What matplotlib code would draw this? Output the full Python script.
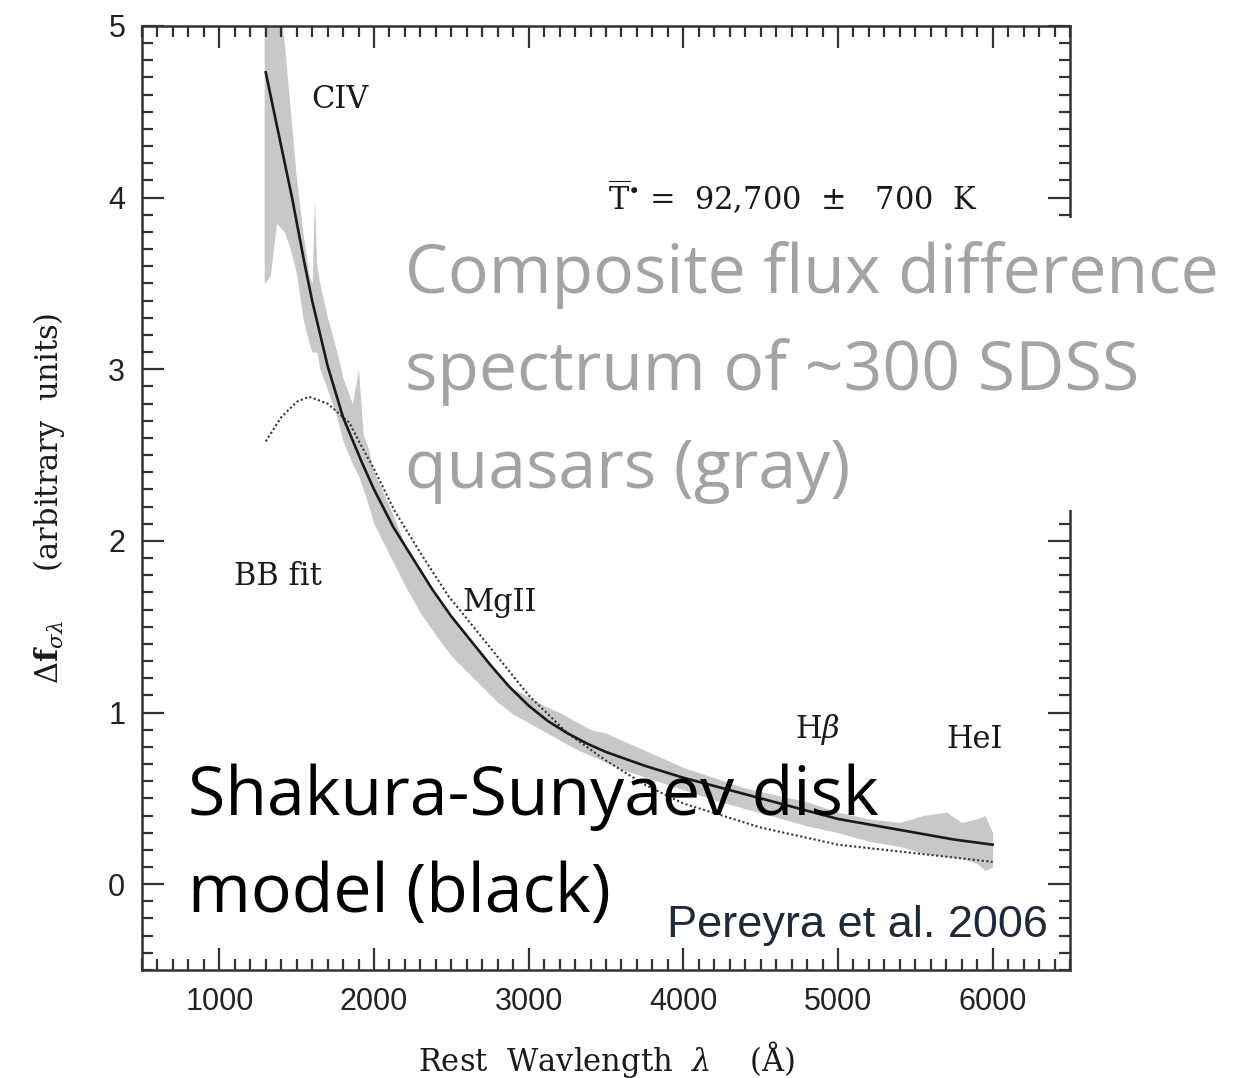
import numpy as np
import matplotlib
matplotlib.use("Agg")
from matplotlib import pyplot as plt
from matplotlib.ticker import MultipleLocator
from matplotlib.patches import Rectangle

plt.rcParams['mathtext.fontset'] = 'dejavuserif'

# Shakura-Sunyaev disk model (black line)
ss_lam = [1300, 1400, 1470, 1550, 1600, 1700, 1800, 1860, 1930, 2000, 2125, 2250, 2375, 2500, 2625, 2750, 2875,
          3000, 3125, 3250, 3375, 3500, 3750, 4000, 4250, 4500, 4750, 5000, 5250, 5500, 5750, 6000]
ss_flux = [4.73, 4.30, 4.00, 3.62, 3.40, 3.02, 2.72, 2.59, 2.44, 2.30, 2.08, 1.90, 1.72, 1.56, 1.42, 1.28, 1.15,
           1.04, 0.95, 0.88, 0.82, 0.77, 0.69, 0.62, 0.56, 0.50, 0.44, 0.38, 0.34, 0.30, 0.26, 0.23]

# blackbody fit (dotted)
bb_lam = [1300, 1400, 1500, 1580, 1700, 1840, 1920, 2000, 2130, 2300, 2480, 2750, 3000, 3250, 3500, 3750, 4000,
          4500, 5000, 5500, 6000]
bb_flux = [2.58, 2.72, 2.81, 2.84, 2.80, 2.69, 2.55, 2.42, 2.18, 1.93, 1.68, 1.38, 1.10, 0.88, 0.72, 0.58, 0.47,
           0.33, 0.23, 0.18, 0.13]

# composite flux difference spectrum (gray band: lower / upper envelope)
sp_lam = [1290, 1310, 1330, 1370, 1420, 1460, 1500, 1540, 1580, 1600, 1615, 1630, 1650, 1700, 1760, 1800, 1860,
          1900, 1930, 1960, 2000, 2100, 2200, 2300, 2400, 2500, 2600, 2700, 2800, 2900, 3000, 3100, 3200,
          3300, 3400, 3500, 3600, 3800, 4000, 4200, 4400, 4600, 4800, 5000, 5200, 5400, 5550, 5700, 5800, 5900, 5950, 6000]
sp_lo = [3.50, 3.52, 3.55, 3.85, 3.80, 3.70, 3.55, 3.30, 3.15, 3.10, 3.10, 3.10, 3.00, 2.88, 2.72, 2.58, 2.45,
         2.38, 2.30, 2.22, 2.10, 1.92, 1.74, 1.58, 1.45, 1.33, 1.24, 1.15, 1.06, 0.99, 0.94, 0.89, 0.84,
         0.79, 0.75, 0.71, 0.67, 0.61, 0.55, 0.49, 0.44, 0.39, 0.34, 0.30, 0.25, 0.22, 0.18, 0.16, 0.15, 0.12, 0.08, 0.10]
sp_hi = [5.30, 5.30, 5.30, 5.30, 4.90, 4.50, 4.10, 3.80, 3.55, 3.50, 4.00, 3.60, 3.50, 3.30, 3.10, 2.95, 2.80,
         3.00, 2.62, 2.55, 2.40, 2.20, 1.98, 1.82, 1.68, 1.56, 1.45, 1.33, 1.22, 1.14, 1.09, 1.04, 1.00,
         0.95, 0.90, 0.88, 0.84, 0.76, 0.68, 0.62, 0.56, 0.52, 0.48, 0.42, 0.38, 0.36, 0.40, 0.42, 0.36, 0.38, 0.40, 0.30]

line_labels = ["CIV", "BB fit", "MgII", r"H$\beta$", "HeI"]
line_x = [1780, 1380, 2810, 4870, 5880]
line_y = [4.57, 1.79, 1.64, 0.90, 0.84]

W, H = 1239, 1078
fig = plt.figure(figsize=(W / 100, H / 100), dpi=100)
ax = fig.add_axes([0.1146, 0.1002, 0.749, 0.8757])

ax.fill_between(sp_lam, sp_lo, sp_hi, color='#c8c8c8', lw=0, zorder=1)
ax.plot(ss_lam, ss_flux, color='#1a1a1a', lw=1.9, zorder=3)
ax.plot(bb_lam, bb_flux, color='#333333', lw=1.5, ls=(0, (1, 1.2)), zorder=2)

ax.set_xlim(500, 6500)
ax.set_ylim(-0.5, 5)
ax.xaxis.set_major_locator(MultipleLocator(1000))
ax.xaxis.set_minor_locator(MultipleLocator(100))
ax.yaxis.set_major_locator(MultipleLocator(1))
ax.yaxis.set_minor_locator(MultipleLocator(0.1))
ax.tick_params(which='both', direction='in', top=True, right=True, color='#333333', width=1.6)
ax.tick_params(which='major', length=16, labelsize=22, pad=12, labelcolor='#222222')
ax.tick_params(which='minor', length=8)
for s in ax.spines.values():
    s.set_linewidth(1.8)
    s.set_color('#333333')
for lb in ax.get_xticklabels() + ax.get_yticklabels():
    lb.set_family('Liberation Sans')

serif = 'DejaVu Serif'
for t, x, y in zip(line_labels, line_x, line_y):
    ax.text(x, y, t, ha='center', va='center', fontsize=22, family=serif, color='#1a1a1a')
ax.text(4710, 4.0, r"$\overline{\mathrm{T}}^{\bullet}$ =  92,700  $\pm$   700  K", ha='center', va='center',
        fontsize=22, family=serif, color='#1a1a1a')

ax.set_xlabel(r"Rest  Wavlength  $\lambda$    ($\mathrm{\AA}$)", fontsize=22, family=serif, color='#1a1a1a', labelpad=16)
ax.set_ylabel(r"$\Delta \mathbf{f}_{\sigma\lambda}$     (arbitrary  units)", fontsize=22, family=serif,
              color='#1a1a1a', labelpad=30)

# white box behind the gray annotation (it also hides part of the right frame)
fig.patches.append(Rectangle((395 / W, 1 - 510 / H), (W - 395) / W, 292 / H, transform=fig.transFigure,
                             facecolor='white', edgecolor='none', zorder=5))

big = 'Open Sans'
gray_lines = ["Composite flux difference", "spectrum of ~300 SDSS", "quasars (gray)"]
for i, t in enumerate(gray_lines):
    fig.text(405 / W, 1 - (293 + 97.5 * i) / H, t, fontsize=49, family=big,
             color='#a3a3a3', va='baseline', ha='left', zorder=10)
black_lines = ["Shakura-Sunyaev disk", "model (black)"]
for i, t in enumerate(black_lines):
    fig.text(188 / W, 1 - (815 + 97 * i) / H, t, fontsize=49, family=big,
             color='black', va='baseline', ha='left', zorder=10)
fig.text(1048 / W, 1 - 937 / H, "Pereyra et al. 2006", fontsize=32.5, family='Liberation Sans',
         color='#1e2a3a', va='baseline', ha='right', zorder=10)

fig.savefig('out.png', dpi=100)
